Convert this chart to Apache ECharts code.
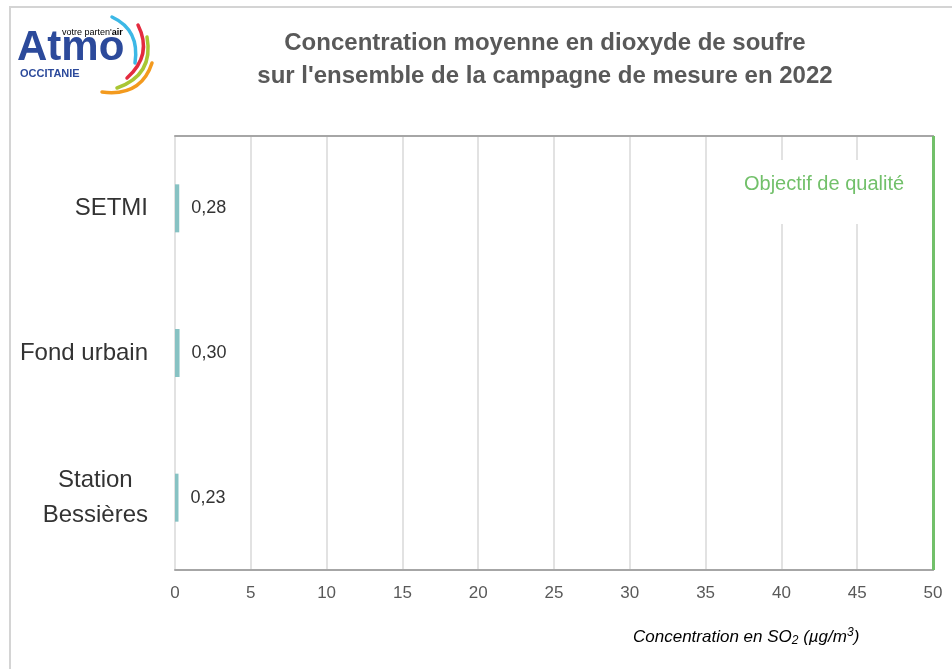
<!DOCTYPE html>
<html>
<head>
<meta charset="utf-8">
<script src="https://cdn.jsdelivr.net/npm/echarts@6/dist/echarts.min.js"></script>
<style>
  html, body { margin: 0; padding: 0; background: #fff; }
  #chart { width: 952px; height: 669px; }
</style>
</head>
<body>
<div id="chart"></div>
<script>
var sites = ['SETMI', 'Fond urbain', 'Station\nBessières'];
var so2Values = [0.28, 0.30, 0.23];
var objectifQualite = 50;
var xTicks = [0, 5, 10, 15, 20, 25, 30, 35, 40, 45, 50];

var myChart = echarts.init(document.getElementById('chart'));

var fontFam = '"Liberation Sans", Arial, sans-serif';

var option = {
  backgroundColor: '#ffffff',
  animation: false,
  title: {
    text: 'Concentration moyenne en dioxyde de soufre\nsur l\'ensemble de la campagne de mesure en 2022',
    left: 540,
    top: 22,
    textAlign: 'center',
    textStyle: {
      fontFamily: fontFam,
      fontSize: 24,
      fontWeight: 'bold',
      color: '#595959',
      lineHeight: 33
    }
  },
  grid: { left: 175, right: 19, top: 136, bottom: 99 },
  xAxis: [
    {
      type: 'value',
      min: xTicks[0],
      max: xTicks[xTicks.length - 1],
      interval: 5,
      axisLine: { show: true, lineStyle: { color: '#a6a6a6', width: 2 } },
      axisTick: { show: false },
      axisLabel: { color: '#595959', fontSize: 17, fontFamily: fontFam, margin: 15 },
      splitLine: { show: true, lineStyle: { color: '#e2e2e2', width: 2 } }
    },
    {
      type: 'value',
      position: 'top',
      min: 0, max: 50,
      axisLine: { show: true, onZero: false, lineStyle: { color: '#a6a6a6', width: 2 } },
      axisTick: { show: false },
      axisLabel: { show: false },
      splitLine: { show: false }
    }
  ],
  yAxis: [
    {
      type: 'category',
      inverse: true,
      data: sites,
      axisLine: { show: false },
      axisTick: { show: false },
      axisLabel: {
        margin: 27,
        fontSize: 24,
        fontFamily: fontFam,
        color: '#333333',
        formatter: function (v) {
          return v.split('\n').map(function (s) { return '{c|' + s + '}'; }).join('\n');
        },
        rich: {
          c: { align: 'center', fontSize: 24, fontFamily: fontFam, color: '#333333', lineHeight: 35 }
        }
      }
    },
    {
      type: 'category',
      inverse: true,
      position: 'right',
      data: sites,
      axisLine: { show: true, onZero: false, lineStyle: { color: '#a6a6a6', width: 2 } },
      axisTick: { show: false },
      axisLabel: { show: false }
    }
  ],
  series: [
    {
      type: 'bar',
      data: so2Values,
      barWidth: 48,
      itemStyle: { color: '#87c2c3' },
      label: {
        show: true,
        position: 'right',
        distance: 12,
        fontSize: 18,
        fontFamily: fontFam,
        color: '#333333',
        formatter: function (p) { return p.value.toFixed(2).replace('.', ','); }
      },
      markLine: {
        silent: true,
        symbol: 'none',
        label: { show: false },
        lineStyle: { color: '#72c06a', width: 3, type: 'solid' },
        data: [{ xAxis: objectifQualite }]
      }
    }
  ],
  graphic: [
    {
      type: 'polyline',
      z: 100,
      shape: { points: [[10, 669], [10, 7], [952, 7]] },
      style: { stroke: '#d4d4d4', lineWidth: 2, fill: null }
    },
    {
      type: 'rect',
      z: 100,
      shape: { x: 736, y: 160, width: 180, height: 64 },
      style: { fill: '#ffffff' }
    },
    {
      type: 'text',
      z: 101,
      left: 744,
      top: 174,
      style: {
        text: 'Objectif de qualité',
        fill: '#72c06a',
        font: '20px ' + fontFam
      }
    },
    {
      type: 'text',
      z: 100,
      left: 633,
      top: 627,
      style: {
        text: '{a|Concentration en SO}{s|2}{a| (µg/m}{p|3}{a|)}',
        rich: {
          a: { fontSize: 17, fontStyle: 'italic', fontFamily: fontFam, color: '#333333' },
          s: { fontSize: 12, fontStyle: 'italic', fontFamily: fontFam, color: '#333333', verticalAlign: 'bottom', padding: [8, 0, 0, 0] },
          p: { fontSize: 12, fontStyle: 'italic', fontFamily: fontFam, color: '#333333', verticalAlign: 'top', padding: [0, 0, 6, 0] }
        }
      }
    },
    // logo Atmo
    {
      type: 'text',
      z: 100,
      left: 17,
      top: 27,
      style: { text: 'Atmo', font: 'bold 42px ' + fontFam, fill: '#2c4a9b' }
    },
    {
      type: 'text',
      z: 100,
      left: 62,
      top: 28,
      style: {
        text: '{a|votre parten\'}{b|air}',
        rich: {
          a: { fontSize: 9, fontFamily: fontFam, color: '#3a62b0' },
          b: { fontSize: 9, fontWeight: 'bold', fontFamily: fontFam, color: '#3a62b0' }
        }
      }
    },
    {
      type: 'text',
      z: 100,
      left: 20,
      top: 68,
      style: { text: 'OCCITANIE', font: 'bold 11px ' + fontFam, fill: '#2c4a9b' }
    },
    {
      type: 'bezierCurve',
      z: 100,
      shape: { x1: 112, y1: 17, x2: 135, y2: 63, cpx1: 140, cpy1: 30 },
      style: { stroke: '#3cb8e6', lineWidth: 3.5, fill: null, lineCap: 'round' }
    },
    {
      type: 'bezierCurve',
      z: 100,
      shape: { x1: 138, y1: 25, x2: 127, y2: 78, cpx1: 153, cpy1: 55 },
      style: { stroke: '#e32b3f', lineWidth: 3.5, fill: null, lineCap: 'round' }
    },
    {
      type: 'bezierCurve',
      z: 100,
      shape: { x1: 147, y1: 37, x2: 117, y2: 88, cpx1: 154, cpy1: 75 },
      style: { stroke: '#a9c634', lineWidth: 3.5, fill: null, lineCap: 'round' }
    },
    {
      type: 'bezierCurve',
      z: 100,
      shape: { x1: 152, y1: 63, x2: 102, y2: 92, cpx1: 141, cpy1: 97 },
      style: { stroke: '#f39a1e', lineWidth: 3.5, fill: null, lineCap: 'round' }
    }
  ]
};

myChart.setOption(option);
</script>
</body>
</html>
